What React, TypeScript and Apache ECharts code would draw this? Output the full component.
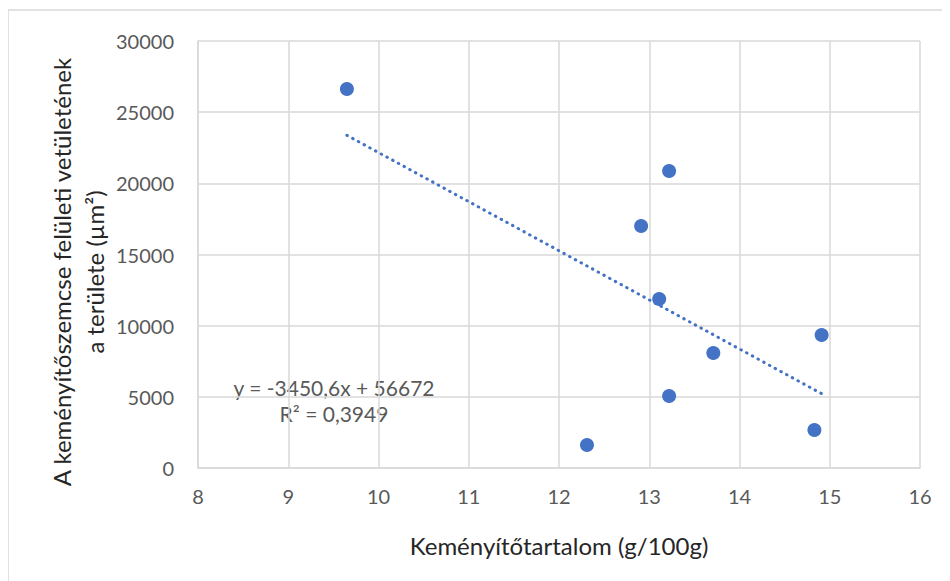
import React, { useEffect, useRef } from "react";
import * as echarts from "echarts";

const starchContent = [9.65, 13.22, 12.91, 13.11, 14.91, 13.71, 13.22, 12.31, 14.83];
const grainArea = [26630, 20870, 17000, 11870, 9340, 8080, 5060, 1620, 2670];
const trendSlope = -3450.6;
const trendIntercept = 56672;
const trendLabel = "y = -3450,6x + 56672";
const r2Label = "R² = 0,3949";
const xTitle = "Keményítőtartalom (g/100g)";
const yTitle = "A keményítőszemcse felületi vetületének\na területe (µm²)";

const FONT = "Lato, 'Open Sans', sans-serif";

export default function App() {
  const ref = useRef<HTMLDivElement>(null);
  useEffect(() => {
    if (!ref.current) return;
    const chart = echarts.init(ref.current, undefined, { renderer: "svg" });
    const xmin = Math.min(...starchContent);
    const xmax = Math.max(...starchContent);
    const trend = [
      [xmin, trendSlope * xmin + trendIntercept],
      [xmax, trendSlope * xmax + trendIntercept],
    ];
    const points = starchContent.map((x, i) => [x, grainArea[i]]);
    chart.setOption({
      animation: false,
      backgroundColor: "#ffffff",
      textStyle: { fontFamily: FONT },
      grid: { left: 190, right: 30, top: 33, bottom: 113 },
      xAxis: {
        type: "value",
        min: 8,
        max: 16,
        interval: 1,
        axisLine: { show: true, lineStyle: { color: "#d9d9d9", width: 1.5 } },
        axisTick: { show: false },
        axisLabel: { color: "#595959", fontSize: 20, margin: 18, fontFamily: FONT, formatter: (v: number) => String(v) },
        splitLine: { show: true, lineStyle: { color: "#d9d9d9", width: 1.5 } },
      },
      yAxis: {
        type: "value",
        min: 0,
        max: 30000,
        interval: 5000,
        axisLine: { show: true, lineStyle: { color: "#d9d9d9", width: 1.5 } },
        axisTick: { show: false },
        axisLabel: { color: "#595959", fontSize: 20, margin: 24, fontFamily: FONT, formatter: (v: number) => String(v) },
        splitLine: { show: true, lineStyle: { color: "#d9d9d9", width: 1.5 } },
      },
      series: [
        {
          type: "line",
          data: trend,
          showSymbol: false,
          symbol: "none",
          lineStyle: { color: "#4472c4", width: 3, type: [0.5, 6], cap: "round" },
          silent: true,
          z: 2,
        },
        {
          type: "scatter",
          data: points,
          symbolSize: 14,
          itemStyle: { color: "#4472c4", opacity: 1 },
          z: 3,
        },
      ],
      graphic: [
        {
          type: "line",
          shape: { x1: 0, y1: 2, x2: 942, y2: 2 },
          style: { stroke: "#d9d9d9", lineWidth: 1.5 },
        },
        {
          type: "line",
          shape: { x1: 0, y1: 2, x2: 0, y2: 573 },
          style: { stroke: "#d9d9d9", lineWidth: 1.5 },
        },
        {
          type: "text",
          x: 551,
          y: 537,
          style: {
            text: xTitle,
            fontSize: 24,
            fontFamily: FONT,
            fill: "#262626",
            textAlign: "center",
            textVerticalAlign: "middle",
          },
        },
        {
          type: "text",
          x: 70,
          y: 264,
          rotation: Math.PI / 2,
          style: {
            text: yTitle,
            fontSize: 24,
            lineHeight: 33,
            fontFamily: FONT,
            fill: "#262626",
            align: "center",
            verticalAlign: "middle",
            textAlign: "center",
            textVerticalAlign: "middle",
          },
        },
        {
          type: "text",
          x: 326,
          y: 392,
          style: {
            text: trendLabel + "\n" + r2Label,
            fontSize: 21,
            lineHeight: 26,
            fontFamily: FONT,
            fill: "#595959",
            textAlign: "center",
            textVerticalAlign: "middle",
          },
        },
      ],
    });
    return () => chart.dispose();
  }, []);
  return <div ref={ref} style={{ width: 942, height: 573 }} />;
}
